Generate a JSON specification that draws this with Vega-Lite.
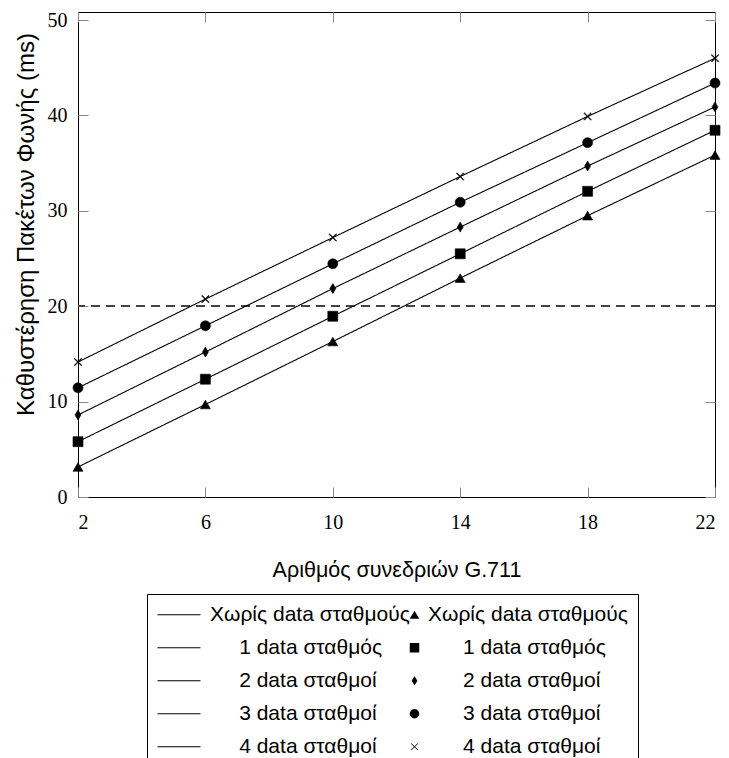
{
  "$schema": "https://vega.github.io/schema/vega-lite/v6.json",
  "width": 637,
  "height": 485,
  "autosize": "none",
  "padding": {"left": 78, "top": 12, "right": 14, "bottom": 261},
  "background": "white",
  "config": {
    "view": {"stroke": "black", "strokeWidth": 1},
    "axis": {
      "labelFont": "Liberation Serif",
      "labelFontSize": 20,
      "labelColor": "black",
      "tickColor": "#888888",
      "tickSize": -10,
      "domain": false,
      "grid": false,
      "titleFont": "Liberation Sans",
      "titleFontSize": 21.5,
      "titleFontWeight": "normal",
      "titleColor": "black"
    }
  },
  "data": {
    "values": [
      {"n": 2, "s": "0", "k": "M0", "d": 3.15},
      {"n": 6, "s": "0", "k": "M0", "d": 9.7},
      {"n": 10, "s": "0", "k": "M0", "d": 16.3},
      {"n": 14, "s": "0", "k": "M0", "d": 22.95},
      {"n": 18, "s": "0", "k": "M0", "d": 29.5},
      {"n": 22, "s": "0", "k": "M0", "d": 35.85},
      {"n": 2, "s": "1", "k": "M1", "d": 5.8},
      {"n": 6, "s": "1", "k": "M1", "d": 12.35},
      {"n": 10, "s": "1", "k": "M1", "d": 18.95},
      {"n": 14, "s": "1", "k": "M1", "d": 25.5},
      {"n": 18, "s": "1", "k": "M1", "d": 32.05},
      {"n": 22, "s": "1", "k": "M1", "d": 38.45},
      {"n": 2, "s": "2", "k": "M2", "d": 8.6},
      {"n": 6, "s": "2", "k": "M2", "d": 15.2},
      {"n": 10, "s": "2", "k": "M2", "d": 21.85},
      {"n": 14, "s": "2", "k": "M2", "d": 28.3},
      {"n": 18, "s": "2", "k": "M2", "d": 34.7},
      {"n": 22, "s": "2", "k": "M2", "d": 40.9},
      {"n": 2, "s": "3", "k": "M3", "d": 11.45},
      {"n": 6, "s": "3", "k": "M3", "d": 17.95},
      {"n": 10, "s": "3", "k": "M3", "d": 24.45},
      {"n": 14, "s": "3", "k": "M3", "d": 30.9},
      {"n": 18, "s": "3", "k": "M3", "d": 37.15},
      {"n": 22, "s": "3", "k": "M3", "d": 43.4},
      {"n": 2, "s": "4", "k": "M4", "d": 14.15},
      {"n": 6, "s": "4", "k": "M4", "d": 20.75},
      {"n": 10, "s": "4", "k": "M4", "d": 27.2},
      {"n": 14, "s": "4", "k": "M4", "d": 33.6},
      {"n": 18, "s": "4", "k": "M4", "d": 39.9},
      {"n": 22, "s": "4", "k": "M4", "d": 46.0}
    ]
  },
  "resolve": {"axis": {"x": "independent", "y": "independent"}},
  "layer": [
    {
      "mark": {"type": "rule", "strokeDash": [9, 6], "color": "#444444", "strokeWidth": 1},
      "encoding": {
        "y": {"datum": 20, "type": "quantitative", "axis": null}
      }
    },
    {
      "mark": {"type": "line", "strokeWidth": 1.1},
      "encoding": {
        "x": {
          "field": "n", "type": "quantitative",
          "scale": {"domain": [2, 22], "nice": false, "zero": false},
          "axis": {"orient": "bottom", "values": [2, 6, 10, 14, 18, 22], "labelPadding": 25, "title": "Αριθμός συνεδριών G.711", "titlePadding": 27}
        },
        "y": {
          "field": "d", "type": "quantitative",
          "scale": {"domain": [0, 50.85], "nice": false},
          "axis": {"orient": "left", "values": [0, 10, 20, 30, 40, 50], "labelPadding": 21, "title": "Καθυστέρηση Πακέτων Φωνής (ms)", "titleFontSize": 24, "titleX": -40, "titleY": 212}
        },
        "color": {
          "field": "s", "type": "nominal",
          "scale": {
            "domain": ["0", "1", "2", "3", "4"],
            "range": ["black", "black", "black", "black", "black"]
          },
          "legend": {
            "title": null,
            "orient": "none",
            "direction": "vertical",
            "legendX": 69,
            "legendY": 582,
            "padding": 10,
            "rowPadding": 10,
            "clipHeight": 21.5,
            "strokeColor": "black",
            "symbolType": "stroke",
            "symbolSize": 1849,
            "symbolStrokeWidth": 1,
            "labelFont": "Liberation Sans",
            "labelFontSize": 21,
            "labelColor": "black",
            "labelLimit": 700,
            "labelOffset": 227,
            "labelExpr": "['Χωρίς data σταθμούς','\u200b\u00a0\u00a0\u00a0\u00a0\u00a0\u00a01 data σταθμός','\u200b\u00a0\u00a0\u00a0\u00a0\u00a0\u00a02 data σταθμοί','\u200b\u00a0\u00a0\u00a0\u00a0\u00a0\u00a03 data σταθμοί','\u200b\u00a0\u00a0\u00a0\u00a0\u00a0\u00a04 data σταθμοί'][indexof(['0','1','2','3','4'], datum.value)]"
          }
        },
        "strokeDash": {
          "field": "s", "type": "nominal",
          "scale": {
            "domain": ["4", "3", "2", "1", "0"],
            "range": [[1, 0], [1, 0], [1, 0], [1, 0], [1, 0]]
          },
          "legend": {
            "title": null,
            "orient": "none",
            "direction": "vertical",
            "values": ["0", "1", "2", "3", "4"],
            "legendX": 69,
            "legendY": 582,
            "padding": 10,
            "rowPadding": 10,
            "clipHeight": 21.5,
            "symbolType": "stroke",
            "symbolSize": 1849,
            "symbolOpacity": 0,
            "symbolStrokeColor": "transparent",
            "labelFont": "Liberation Sans",
            "labelFontSize": 21,
            "labelColor": "black",
            "labelLimit": 700,
            "labelOffset": 8,
            "labelExpr": "['Χωρίς data σταθμούς','\u200b\u00a0\u00a0\u00a0\u00a0\u00a01 data σταθμός','\u200b\u00a0\u00a0\u00a0\u00a0\u00a02 data σταθμοί','\u200b\u00a0\u00a0\u00a0\u00a0\u00a03 data σταθμοί','\u200b\u00a0\u00a0\u00a0\u00a0\u00a04 data σταθμοί'][indexof(['0','1','2','3','4'], datum.value)]"
          }
        }
      }
    },
    {
      "mark": {"type": "point", "filled": true, "color": "black", "stroke": "black", "strokeWidth": 0.6, "opacity": 1, "size": 100},
      "encoding": {
        "x": {
          "field": "n", "type": "quantitative",
          "axis": {"orient": "top", "values": [2, 6, 10, 14, 18, 22], "labels": false, "title": null}
        },
        "y": {
          "field": "d", "type": "quantitative",
          "axis": {"orient": "right", "values": [0, 10, 20, 30, 40, 50], "labels": false, "title": null}
        },
        "shape": {
          "field": "k", "type": "nominal",
          "scale": {
            "domain": ["M0", "M1", "M2", "M3", "M4"],
            "range": ["triangle-up", "square", "M0,-1L0.6,0L0,1L-0.6,0Z", "circle", "M-0.75,-0.64L-0.64,-0.75L0,-0.11L0.64,-0.75L0.75,-0.64L0.11,0L0.75,0.64L0.64,0.75L0,0.11L-0.64,0.75L-0.75,0.64L-0.11,0Z"]
          },
          "legend": {
            "title": null,
            "orient": "none",
            "direction": "vertical",
            "legendX": 326,
            "legendY": 592,
            "padding": 0,
            "rowPadding": 10,
            "clipHeight": 21.5,
            "symbolSize": 90,
            "symbolFillColor": "black",
            "symbolStrokeColor": "black",
            "symbolStrokeWidth": 1,
            "symbolOpacity": 1,
            "labelFontSize": 21,
            "labelLimit": 700,
            "labelOffset": 1.5,
            "labelExpr": "''"
          }
        }
      }
    }
  ]
}
